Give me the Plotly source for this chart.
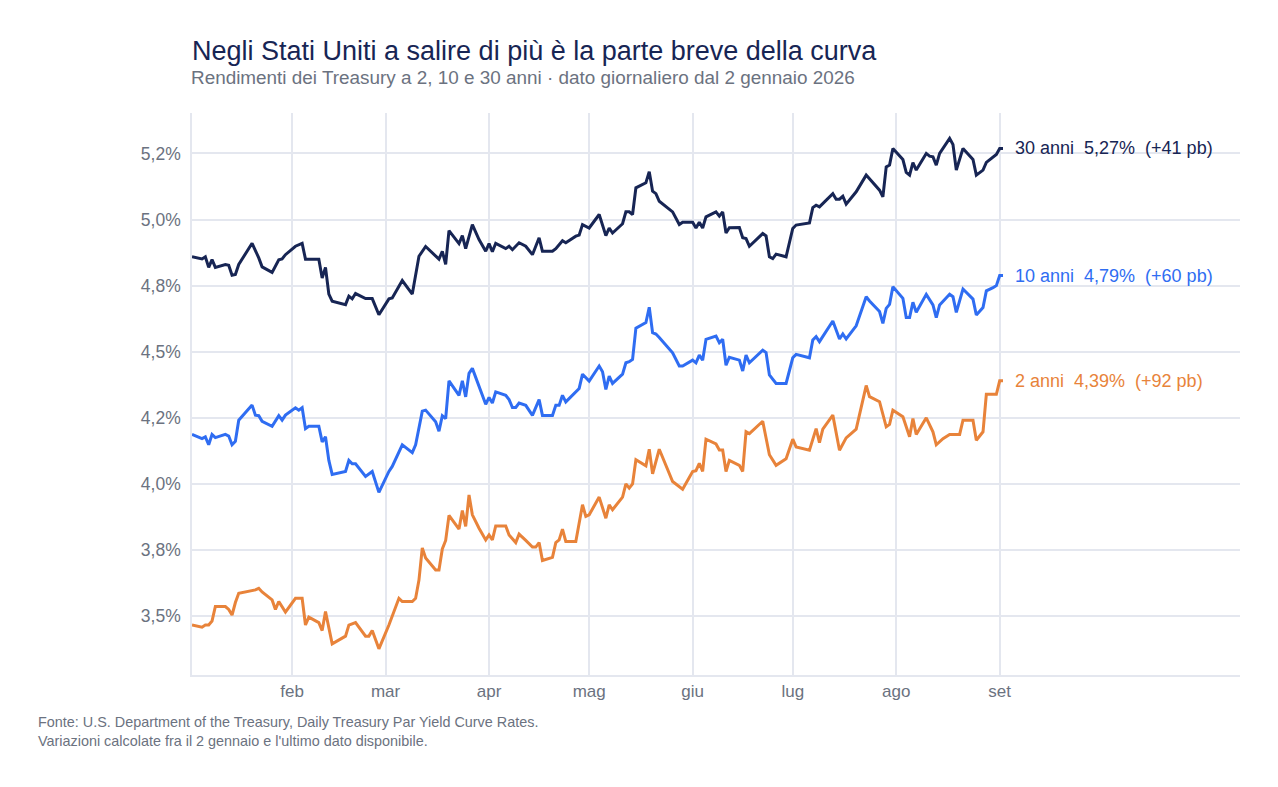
import pandas as pd
import plotly.graph_objects as go

# Giorni di calendario dal 2 gennaio 2026 e rendimenti (%)
inizio = "2026-01-02"

giorni_30 = [0, 3, 4, 5, 6, 7, 10, 11, 12, 13, 14, 18, 20, 21, 24, 26, 27, 28, 31, 33,
             34, 38, 39, 40, 41, 42, 46, 47, 48, 49, 52, 54, 56, 59, 60, 63, 66, 68, 70, 74,
             75, 76, 77, 80, 81, 82, 84, 86, 88, 89, 90, 91, 94, 95, 96, 98, 100, 102, 104, 105,
             108, 109, 111, 112, 115, 116, 117, 119, 122, 124, 125, 126, 129, 130, 131, 132, 133, 136, 137, 138,
             139, 140, 144, 146, 147, 150, 151, 152, 153, 154, 157, 158, 159, 160, 161, 164, 165, 166, 167, 171,
             172, 173, 174, 175, 178, 180, 181, 185, 186, 187, 188, 192, 193, 194, 195, 196, 199, 202, 206, 207,
             208, 209, 210, 213, 214, 215, 216, 217, 220, 221, 222, 223, 224, 227, 228, 229, 231, 234, 235, 237,
             238, 240, 241, 242, 243]
rend_30 = [4.859, 4.851, 4.859, 4.819, 4.848, 4.819, 4.830, 4.827, 4.789, 4.792, 4.830, 4.910, 4.855, 4.821, 4.800, 4.848, 4.851, 4.867, 4.899, 4.910,
           4.850, 4.850, 4.779, 4.819, 4.718, 4.691, 4.678, 4.710, 4.700, 4.720, 4.701, 4.701, 4.640, 4.700, 4.703, 4.769, 4.718, 4.861, 4.898, 4.850,
           4.880, 4.830, 4.958, 4.909, 4.939, 4.890, 4.981, 4.924, 4.880, 4.909, 4.878, 4.910, 4.890, 4.899, 4.886, 4.912, 4.899, 4.867, 4.931, 4.880,
           4.880, 4.890, 4.920, 4.912, 4.937, 4.941, 4.981, 4.968, 5.019, 4.939, 4.968, 4.949, 4.984, 5.029, 5.029, 5.019, 5.120, 5.139, 5.181, 5.107,
           5.098, 5.069, 5.029, 4.981, 4.990, 4.990, 4.968, 4.990, 4.968, 5.010, 5.029, 5.013, 5.029, 4.949, 4.969, 4.970, 4.931, 4.928, 4.899, 4.947,
           4.938, 4.859, 4.852, 4.869, 4.859, 4.966, 4.979, 4.987, 5.045, 5.054, 5.048, 5.098, 5.077, 5.077, 5.088, 5.058, 5.105, 5.168, 5.111, 5.086,
           5.199, 5.206, 5.269, 5.227, 5.178, 5.168, 5.215, 5.187, 5.250, 5.240, 5.237, 5.206, 5.250, 5.307, 5.284, 5.187, 5.269, 5.227, 5.168, 5.187,
           5.216, 5.237, 5.246, 5.269, 5.269]

giorni_10 = [0, 3, 4, 5, 6, 7, 10, 11, 12, 13, 14, 18, 19, 20, 21, 24, 26, 27, 28, 31,
             32, 33, 34, 35, 38, 39, 40, 41, 42, 46, 47, 48, 49, 52, 54, 56, 59, 60, 63, 66,
             67, 69, 70, 73, 74, 75, 76, 77, 80, 81, 82, 83, 84, 86, 87, 88, 89, 90, 91, 94,
             95, 96, 97, 98, 100, 102, 104, 105, 108, 109, 110, 111, 112, 116, 117, 119, 122, 123, 124, 125,
             126, 129, 130, 131, 132, 133, 136, 137, 138, 139, 140, 144, 146, 147, 150, 151, 152, 153, 154, 157,
             158, 159, 160, 161, 164, 165, 166, 167, 171, 172, 173, 175, 178, 180, 181, 185, 186, 187, 188, 192,
             194, 195, 196, 199, 202, 203, 206, 207, 208, 209, 210, 213, 214, 215, 216, 217, 220, 222, 223, 224,
             227, 228, 229, 231, 234, 235, 237, 238, 240, 241, 242, 243]
rend_10 = [4.187, 4.171, 4.178, 4.148, 4.187, 4.175, 4.187, 4.181, 4.148, 4.161, 4.241, 4.298, 4.260, 4.258, 4.237, 4.218, 4.258, 4.241, 4.260, 4.288,
           4.279, 4.288, 4.209, 4.218, 4.218, 4.159, 4.178, 4.089, 4.036, 4.047, 4.089, 4.076, 4.076, 4.028, 4.047, 3.968, 4.047, 4.066, 4.148, 4.118,
           4.148, 4.275, 4.279, 4.235, 4.199, 4.258, 4.247, 4.390, 4.335, 4.390, 4.329, 4.418, 4.437, 4.367, 4.329, 4.301, 4.327, 4.306, 4.348, 4.335,
           4.319, 4.289, 4.289, 4.306, 4.297, 4.259, 4.319, 4.259, 4.259, 4.297, 4.297, 4.335, 4.310, 4.361, 4.415, 4.389, 4.446, 4.424, 4.357, 4.408,
           4.380, 4.415, 4.458, 4.462, 4.471, 4.589, 4.610, 4.668, 4.572, 4.567, 4.554, 4.496, 4.446, 4.446, 4.468, 4.458, 4.487, 4.468, 4.547, 4.559,
           4.534, 4.547, 4.449, 4.479, 4.468, 4.427, 4.487, 4.458, 4.506, 4.497, 4.412, 4.380, 4.380, 4.477, 4.490, 4.477, 4.544, 4.557, 4.538, 4.616,
           4.548, 4.567, 4.548, 4.598, 4.708, 4.692, 4.652, 4.607, 4.664, 4.679, 4.746, 4.702, 4.629, 4.629, 4.687, 4.649, 4.717, 4.677, 4.629, 4.677,
           4.717, 4.708, 4.649, 4.737, 4.699, 4.639, 4.667, 4.730, 4.742, 4.750, 4.788, 4.788]

giorni_2 = [0, 3, 4, 5, 6, 7, 10, 11, 12, 13, 14, 18, 19, 20, 21, 24, 25, 26, 28, 31,
            33, 34, 35, 38, 39, 40, 42, 46, 47, 49, 52, 53, 54, 56, 59, 62, 63, 66, 67, 68,
            69, 70, 73, 74, 75, 76, 77, 80, 81, 82, 83, 84, 86, 88, 89, 90, 91, 94, 95, 97,
            98, 100, 102, 103, 104, 105, 108, 109, 110, 111, 112, 115, 117, 118, 119, 122, 124, 125, 126, 129,
            130, 131, 132, 133, 136, 137, 138, 140, 144, 147, 150, 151, 152, 153, 154, 157, 158, 159, 160, 161,
            164, 165, 166, 167, 171, 173, 175, 178, 180, 181, 185, 187, 188, 189, 192, 194, 196, 199, 202, 203,
            206, 208, 209, 210, 213, 215, 216, 217, 220, 222, 223, 225, 227, 230, 231, 234, 235, 237, 238, 241,
            242, 243]
rend_2 = [3.466, 3.458, 3.466, 3.466, 3.481, 3.536, 3.536, 3.525, 3.504, 3.551, 3.586, 3.598, 3.599, 3.605, 3.591, 3.561, 3.525, 3.555, 3.515, 3.567,
          3.567, 3.466, 3.496, 3.475, 3.445, 3.517, 3.395, 3.424, 3.466, 3.475, 3.424, 3.424, 3.445, 3.376, 3.466, 3.567, 3.555, 3.555, 3.567, 3.636,
          3.758, 3.720, 3.674, 3.674, 3.754, 3.786, 3.881, 3.829, 3.899, 3.839, 3.958, 3.883, 3.832, 3.788, 3.807, 3.788, 3.841, 3.841, 3.807, 3.778,
          3.810, 3.786, 3.761, 3.761, 3.778, 3.710, 3.722, 3.778, 3.788, 3.829, 3.782, 3.782, 3.921, 3.877, 3.883, 3.950, 3.870, 3.921, 3.902, 3.950,
          4.000, 3.984, 4.000, 4.091, 4.068, 4.131, 4.038, 4.131, 4.009, 3.980, 4.047, 4.050, 4.078, 4.047, 4.169, 4.151, 4.128, 4.128, 4.047, 4.089,
          4.070, 4.047, 4.197, 4.190, 4.237, 4.110, 4.070, 4.095, 4.169, 4.140, 4.127, 4.209, 4.156, 4.207, 4.260, 4.127, 4.174, 4.207, 4.372, 4.330,
          4.311, 4.216, 4.225, 4.279, 4.254, 4.178, 4.247, 4.187, 4.250, 4.197, 4.148, 4.171, 4.187, 4.187, 4.241, 4.241, 4.165, 4.197, 4.339, 4.339,
          4.390, 4.390]

serie = [
    ("30 anni", giorni_30, rend_30, "#172554"),
    ("10 anni", giorni_10, rend_10, "#2f6df2"),
    ("2 anni", giorni_2, rend_2, "#e8833a"),
]

# Assi
mesi_val = ["2026-02-01", "2026-03-01", "2026-04-01", "2026-05-01",
            "2026-06-01", "2026-07-01", "2026-08-01", "2026-09-01"]
mesi_txt = ["feb", "mar", "apr", "mag", "giu", "lug", "ago", "set"]
y_val = [3.5, 3.75, 4.0, 4.25, 4.5, 4.75, 5.0, 5.25]
y_txt = ["3,5%", "3,8%", "4,0%", "4,2%", "4,5%", "4,8%", "5,0%", "5,2%"]

FONT = "Liberation Sans, Arial, sans-serif"
GRIGIO = "#6b7280"
GRIGLIA = "#e4e7ef"

fig = go.Figure()
annotazioni = []
for nome, giorni, rend, colore in serie:
    date = pd.Timestamp(inizio) + pd.to_timedelta(giorni, unit="D")
    fig.add_trace(go.Scatter(x=date, y=rend, mode="lines", name=nome,
                             line=dict(color=colore, width=3)))
    ultimo = rend[-1]
    delta = round((rend[-1] - rend[0]) * 100)
    testo = f"{nome} \u00a0{ultimo:.2f}% \u00a0(+{delta} pb)".replace(".", ",")
    annotazioni.append(dict(x=date[-1], y=ultimo, xref="x", yref="y", text=testo,
                            showarrow=False, xanchor="left", yanchor="middle", xshift=10,
                            font=dict(family=FONT, size=18, color=colore)))

annotazioni.append(dict(
    x=0, y=1.064, xref="paper", yref="paper", xanchor="left", yanchor="middle",
    xshift=-3, showarrow=False,
    text="Rendimenti dei Treasury a 2, 10 e 30 anni · dato giornaliero dal 2 gennaio 2026",
    font=dict(family=FONT, size=18.9, color=GRIGIO)))

annotazioni.append(dict(
    x=-0.147, y=-0.066, xref="paper", yref="paper", xanchor="left", yanchor="top",
    xshift=-2, align="left", showarrow=False,
    text="Fonte: U.S. Department of the Treasury, Daily Treasury Par Yield Curve Rates.<br>"
         "Variazioni calcolate fra il 2 gennaio e l'ultimo dato disponibile.",
    font=dict(family=FONT, size=14.4, color=GRIGIO)))

fig.update_layout(
    width=1270, height=779,
    paper_bgcolor="white", plot_bgcolor="white",
    margin=dict(l=184, r=38, t=105, b=112),
    showlegend=False,
    font=dict(family=FONT, color=GRIGIO),
    title=dict(
        text="Negli Stati Uniti a salire di più è la parte breve della curva",
        x=0, xref="paper", xanchor="left",
        y=0.946, yref="container", yanchor="middle",
        font=dict(family=FONT, size=27, color="#172554"),
    ),
    annotations=annotazioni,
)

fig.update_xaxes(
    range=["2026-01-02", "2026-11-12"],
    tickvals=mesi_val, ticktext=mesi_txt,
    showgrid=True, gridcolor=GRIGLIA, gridwidth=1.5,
    showline=True, linecolor=GRIGLIA, linewidth=1.5,
    ticks="", tickfont=dict(size=17, color=GRIGIO),
    zeroline=False,
)
fig.update_yaxes(
    range=[3.277, 5.403],
    tickvals=y_val, ticktext=y_txt,
    showgrid=True, gridcolor=GRIGLIA, gridwidth=1.5,
    showline=True, linecolor=GRIGLIA, linewidth=1.5,
    ticks="", ticklabelstandoff=6, tickfont=dict(size=17.5, color=GRIGIO),
    zeroline=False,
)

fig.write_html("out.html")
